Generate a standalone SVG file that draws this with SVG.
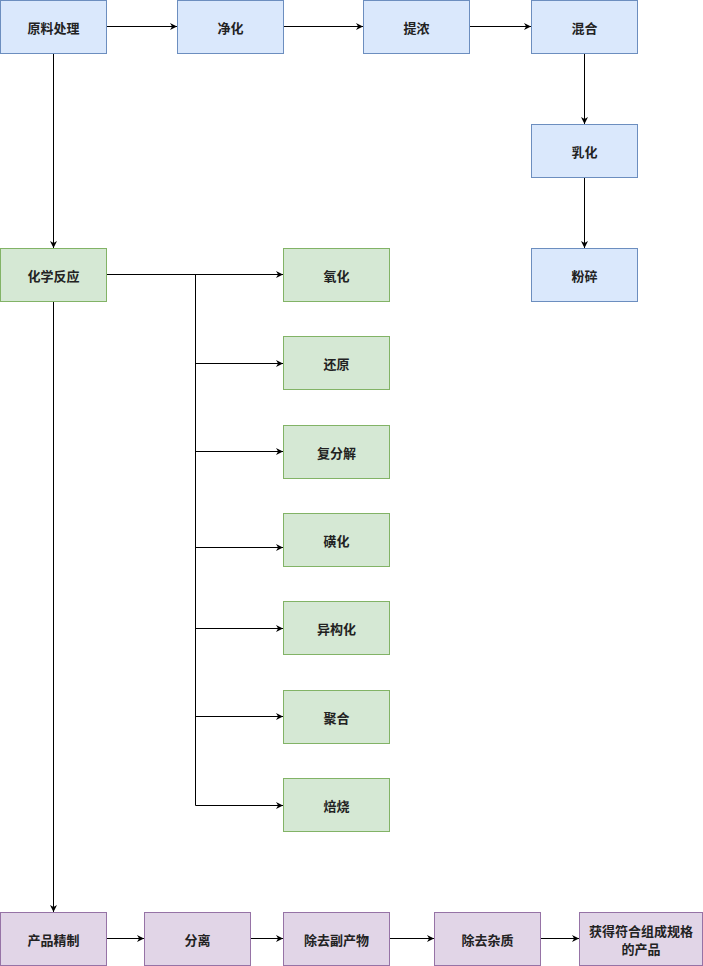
<svg xmlns="http://www.w3.org/2000/svg" width="703" height="966" viewBox="0 0 703 966">
<defs>
<marker id="arr" viewBox="0 0 10 10" refX="10" refY="5" markerWidth="7" markerHeight="7" markerUnits="userSpaceOnUse" orient="auto">
<path d="M0,0 L10,5 L0,10 L3,5 Z" fill="#000"/>
</marker>
<style>
.b rect{fill:#dae8fc;stroke:#6c8ebf;stroke-width:1}
.g rect{fill:#d5e8d4;stroke:#82b366;stroke-width:1}
.p rect{fill:#e1d5e7;stroke:#9673a6;stroke-width:1}
text{font-family:"Noto Sans CJK SC","Liberation Sans",sans-serif;font-size:13px;font-weight:bold;fill:#222;text-anchor:middle;dominant-baseline:central}
#edges path{fill:none;stroke:#000;stroke-width:1}
#edges .a{marker-end:url(#arr)}
</style>
</defs>
<g id="edges">
<path class="a" d="M106.5,26.5 H177"/>
<path class="a" d="M283.5,26.5 H363"/>
<path class="a" d="M469.5,26.5 H531"/>
<path class="a" d="M584.5,53.5 V124"/>
<path class="a" d="M584.5,177.5 V248"/>
<path class="a" d="M53.5,53.5 V248"/>
<path class="a" d="M53.5,301.5 V912"/>
<path class="a" d="M106.5,274.5 H283"/>
<path d="M195.5,274.5 V805.5"/>
<path class="a" d="M195.5,363.5 H283"/>
<path class="a" d="M195.5,451.5 H283"/>
<path class="a" d="M195.5,547.5 H283"/>
<path class="a" d="M195.5,628.5 H283"/>
<path class="a" d="M195.5,716.5 H283"/>
<path class="a" d="M195.5,805.5 H283"/>
<path class="a" d="M106.5,938.5 H144"/>
<path class="a" d="M250.5,938.5 H283"/>
<path class="a" d="M389.5,938.5 H434"/>
<path class="a" d="M540.5,938.5 H579"/>
</g>
<g id="n1" class="b"><rect x="0.5" y="0.5" width="106" height="53"/><text x="53.5" y="27">原料处理</text></g>
<g id="n2" class="b"><rect x="177.5" y="0.5" width="106" height="53"/><text x="230.5" y="27">净化</text></g>
<g id="n3" class="b"><rect x="363.5" y="0.5" width="106" height="53"/><text x="416.5" y="27">提浓</text></g>
<g id="n4" class="b"><rect x="531.5" y="0.5" width="106" height="53"/><text x="584.5" y="27">混合</text></g>
<g id="n5" class="b"><rect x="531.5" y="124.5" width="106" height="53"/><text x="584.5" y="151">乳化</text></g>
<g id="n6" class="b"><rect x="531.5" y="248.5" width="106" height="53"/><text x="584.5" y="275">粉碎</text></g>
<g id="n7" class="g"><rect x="0.5" y="248.5" width="106" height="53"/><text x="53.5" y="275">化学反应</text></g>
<g id="n8" class="g"><rect x="283.5" y="248.5" width="106" height="53"/><text x="336.5" y="275">氧化</text></g>
<g id="n9" class="g"><rect x="283.5" y="336.5" width="106" height="53"/><text x="336.5" y="363">还原</text></g>
<g id="n10" class="g"><rect x="283.5" y="425.5" width="106" height="53"/><text x="336.5" y="452">复分解</text></g>
<g id="n11" class="g"><rect x="283.5" y="513.5" width="106" height="53"/><text x="336.5" y="540">磺化</text></g>
<g id="n12" class="g"><rect x="283.5" y="601.5" width="106" height="53"/><text x="336.5" y="628">异构化</text></g>
<g id="n13" class="g"><rect x="283.5" y="690.5" width="106" height="53"/><text x="336.5" y="717">聚合</text></g>
<g id="n14" class="g"><rect x="283.5" y="778.5" width="106" height="53"/><text x="336.5" y="805">焙烧</text></g>
<g id="n15" class="p"><rect x="0.5" y="912.5" width="106" height="53"/><text x="53.5" y="939">产品精制</text></g>
<g id="n16" class="p"><rect x="144.5" y="912.5" width="106" height="53"/><text x="197.5" y="939">分离</text></g>
<g id="n17" class="p"><rect x="283.5" y="912.5" width="106" height="53"/><text x="336.5" y="939">除去副产物</text></g>
<g id="n18" class="p"><rect x="434.5" y="912.5" width="106" height="53"/><text x="487.5" y="939">除去杂质</text></g>
<g id="n19" class="p"><rect x="579.5" y="912.5" width="123" height="53"/><text x="641" y="930">获得符合组成规格</text><text x="641" y="948">的产品</text></g>
</svg>
